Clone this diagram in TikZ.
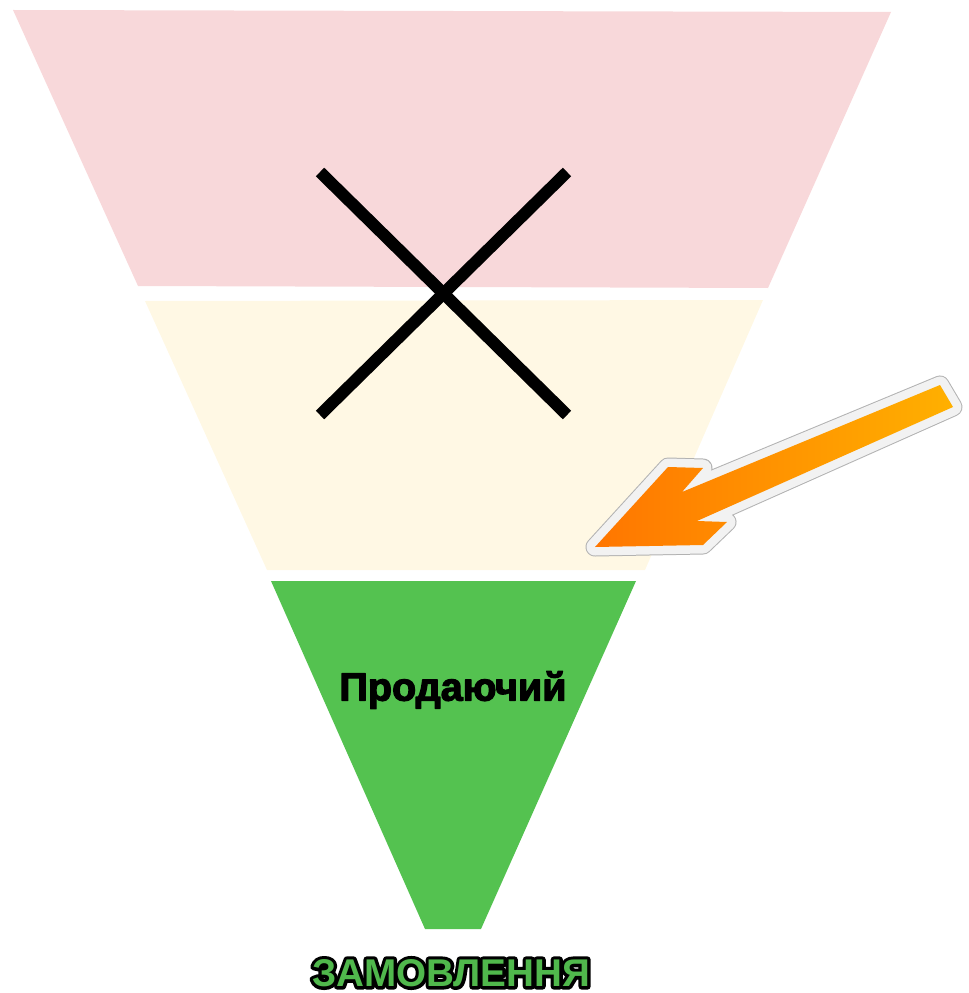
\documentclass[tikz,border=0pt]{standalone}
\usepackage{fontspec}
\newfontfamily\funnelfont{Liberation Sans}
\usepackage{tikz}
\usetikzlibrary{positioning}

\definecolor{topband}{HTML}{F8D8DA}
\definecolor{midband}{HTML}{FFF8E4}
\definecolor{lowband}{HTML}{54C250}
\definecolor{arrowhead}{HTML}{FF7600}
\definecolor{arrowtail}{HTML}{FFB000}
\definecolor{arrowrim}{HTML}{F2F2F2}

% outlined lettering: a black stroked copy under the filled one
\newcommand{\outlined}[1]{%
    \rlap{\special{pdf:literal direct 1 Tr 3.8 w 1 j 0 0 0 RG}#1%
        \special{pdf:literal direct 0 Tr 0.4 w 0 j}}#1}
% slightly heavier black lettering
\newcommand{\heavier}[1]{%
    \special{pdf:literal direct 2 Tr 0.7 w 1 j 0 0 0 RG}#1%
    \special{pdf:literal direct 0 Tr 0.4 w 0 j}}

\begin{document}
\begin{tikzpicture}[
        x=0.02cm,
        y=-0.02cm,
        funnel band/.style={draw=none},
        cross bar/.style={line width=0.24cm,black},
        stage label/.style={font=\funnelfont\bfseries\fontsize{22.5}{26}\selectfont,inner sep=0pt},
        goal label/.style={font=\funnelfont\bfseries\fontsize{22}{26}\selectfont,inner sep=0pt}
    ]
        \useasboundingbox (0,0) rectangle (968,993);

        % The three bands of the funnel, widest on top.
        \fill[funnel band,topband] (13,10) -- (891,12) -- (768,288) -- (138,286) -- cycle;
        \fill[funnel band,midband] (145,301) -- (763,300) -- (645,570) -- (267,570) -- cycle;
        \fill[funnel band,lowband] (271,581) -- (636,581) -- (481,929) -- (425,929) -- cycle;

        % The upper stages are struck out.
        \coordinate (crossnw) at (320,172);
        \coordinate (crossne) at (567,172);
        \coordinate (crosssw) at (320,415);
        \coordinate (crossse) at (567,415);
        \draw[cross bar] (crossnw) -- (crossse);
        \draw[cross bar] (crossne) -- (crosssw);

        % The pointer into the lower stage.
        \def\pointerpath{(595,547) -- (668,467) -- (703,468) -- (682,492)
            -- (940,385) -- (953,407) -- (697,521) -- (727,522) -- (703,545) -- cycle}
        \draw[line width=0.14cm,gray!50,line join=round,shift={(3,-4)}] \pointerpath;
        \draw[line width=0.38cm,gray!60,line join=round] \pointerpath;
        \draw[line width=0.34cm,arrowrim,line join=round] \pointerpath;
        \shade[left color=arrowhead,right color=arrowtail] \pointerpath;

        % Labels.
        \node[stage label] (seller) at (453,690) {\heavier{Продаючий}};
        \node[goal label,text=lowband!95!black] (order) at (451,973) {\outlined{ЗАМОВЛЕННЯ}};
    \end{tikzpicture}
\end{document}
